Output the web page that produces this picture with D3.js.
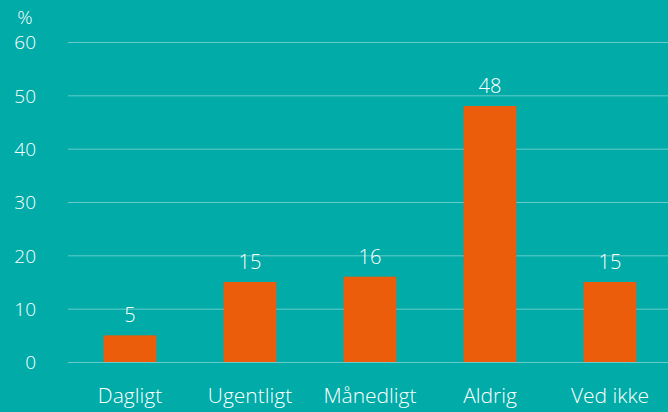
<!DOCTYPE html>
<html>
<head>
<meta charset="utf-8">
<script src="https://cdn.jsdelivr.net/npm/d3@7"></script>
<style>
  html, body { margin: 0; padding: 0; background: #00aba8; }
  svg { display: block; }
  text { font-family: "Open Sans", sans-serif; font-weight: 300; fill: #ffffff; }
</style>
</head>
<body>
<svg id="chart" width="668" height="412"></svg>
<script>
// Survey answers, share in percent
const categories = ["Dagligt", "Ugentligt", "Månedligt", "Aldrig", "Ved ikke"];
const values = [5, 15, 16, 48, 15];
const yTicks = [0, 10, 20, 30, 40, 50, 60];
const unitLabel = "%";

const W = 668, H = 412;
const svg = d3.select("#chart");

svg.append("rect").attr("width", W).attr("height", H).attr("fill", "#00aba8");

const x = d3.scaleBand().domain(categories).range([70, 670]).paddingInner(0.56).paddingOuter(0.28);
const y = d3.scaleLinear().domain([0, 60]).range([362, 42]);

// Horizontal grid lines with tick labels
const yAxis = d3.axisLeft(y).tickValues(yTicks).tickSize(0).tickPadding(0);
const gy = svg.append("g").attr("transform", "translate(36,0)").call(yAxis);
gy.select(".domain").remove();
gy.selectAll("text")
  .attr("x", 0)
  .attr("dy", "0.36em")
  .style("font-family", "'Open Sans', sans-serif")
  .style("font-weight", 300)
  .style("font-size", "19px")
  .attr("fill", "#ffffff");

svg.append("g").selectAll("line").data(yTicks).join("line")
  .attr("x1", 68).attr("x2", W)
  .attr("y1", d => y(d) + 0.5).attr("y2", d => y(d) + 0.5)
  .attr("stroke", "#ffffff").attr("stroke-opacity", 0.4).attr("stroke-width", 1);

svg.append("text")
  .attr("x", 25).attr("y", 24)
  .attr("text-anchor", "middle")
  .style("font-size", "19px")
  .text(unitLabel);

// Bars
svg.append("g").selectAll("rect").data(values).join("rect")
  .attr("x", (d, i) => x(categories[i]))
  .attr("width", x.bandwidth())
  .attr("y", d => y(d))
  .attr("height", d => y(0) - y(d))
  .attr("fill", "#eb5c0b");

// Value labels
svg.append("g").selectAll("text").data(values).join("text")
  .attr("x", (d, i) => x(categories[i]) + x.bandwidth() / 2)
  .attr("y", d => y(d) - 13)
  .attr("text-anchor", "middle")
  .style("font-size", "20px")
  .text(d => d);

// Category labels
const xAxis = d3.axisBottom(x).tickSize(0).tickPadding(0);
const gx = svg.append("g").attr("transform", "translate(0,403)").call(xAxis);
gx.select(".domain").remove();
gx.selectAll("text")
  .attr("y", 0).attr("dy", 0)
  .style("font-family", "'Open Sans', sans-serif")
  .style("font-weight", 300)
  .style("font-size", "21px")
  .attr("fill", "#ffffff");
</script>
</body>
</html>
